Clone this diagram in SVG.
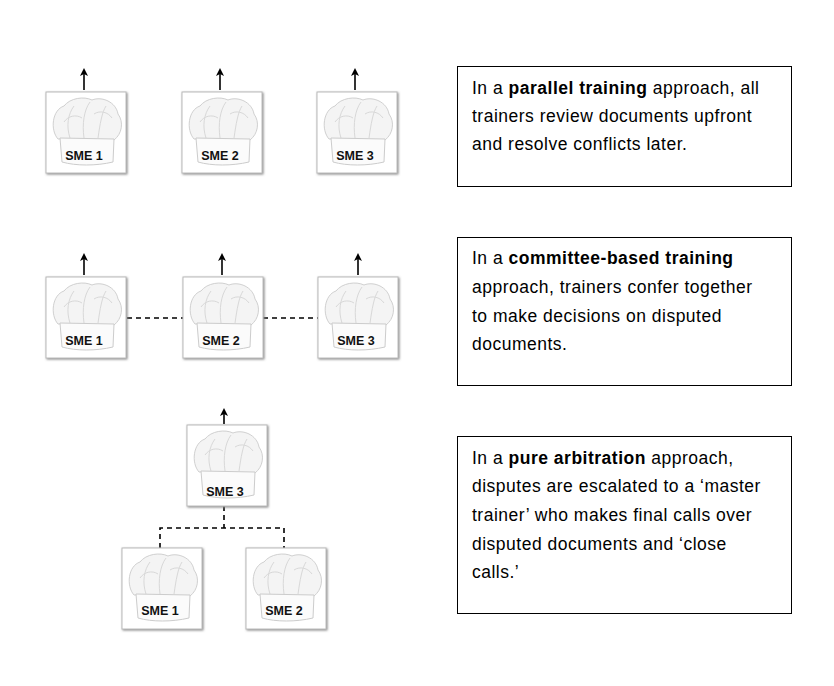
<svg xmlns="http://www.w3.org/2000/svg" xmlns:xlink="http://www.w3.org/1999/xlink" width="834" height="686" viewBox="0 0 834 686">
<style>
.box{fill:#fff;stroke:#000;stroke-width:1}
.t{font-family:"Liberation Sans",Arial,sans-serif;font-size:17.5px;letter-spacing:0.5px;fill:#000}
.b{font-weight:bold}
.lbl{font-family:"Liberation Sans",Arial,sans-serif;font-size:12.5px;font-weight:bold;fill:#111}
.c{stroke:#000;stroke-width:1.6;fill:none}
.d{stroke:#000;stroke-width:1.6;fill:none;stroke-dasharray:5,4}
</style>
<defs>
<marker id="ah" markerWidth="8" markerHeight="8" refX="4" refY="4" orient="auto" markerUnits="userSpaceOnUse">
<path d="M0,0 L8,4 L0,8 L2,4 Z" fill="#000"/>
</marker>
<filter id="sh" x="-10%" y="-10%" width="130%" height="130%"><feDropShadow dx="1" dy="1" stdDeviation="1" flood-color="#888"/></filter>
<g id="hat">
<rect x="0" y="0" width="80" height="81" fill="#fff" stroke="#bbb" filter="url(#sh)"/>
<path d="M12,47 C4,38 6,18 18,14 C24,6 38,4 46,8 C56,4 70,10 72,22 C78,30 76,42 68,48 Z" fill="#f4f4f4" stroke="#d0d0d0"/>
<path d="M24,46 C20,34 22,22 28,14 M38,46 C36,32 38,18 44,10 M52,46 C54,32 56,20 60,14 M18,30 C22,24 30,22 36,26 M48,22 C54,18 62,20 66,26" stroke="#d8d8d8" fill="none"/>
<path d="M14,46 L68,47 L67,70 C50,74 30,74 16,70 Z" fill="#fbfbfb" stroke="#ccc"/>
</g>
</defs>
<rect width="834" height="686" fill="#fff"/>
<g id="connectors">
<line class="c" x1="84" y1="90" x2="84" y2="72" marker-end="url(#ah)"/>
<line class="c" x1="220" y1="90" x2="220" y2="72" marker-end="url(#ah)"/>
<line class="c" x1="355" y1="90" x2="355" y2="72" marker-end="url(#ah)"/>
<line class="c" x1="84" y1="275" x2="84" y2="257" marker-end="url(#ah)"/>
<line class="c" x1="222" y1="275" x2="222" y2="257" marker-end="url(#ah)"/>
<line class="c" x1="358" y1="275" x2="358" y2="257" marker-end="url(#ah)"/>
<line class="c" x1="224" y1="424" x2="224" y2="412" marker-end="url(#ah)"/>
<line class="d" x1="127" y1="318" x2="183" y2="318"/>
<line class="d" x1="263" y1="318" x2="318" y2="318"/>
<path class="d" d="M224,506 V528 M160,548 V528 H284 V548"/>
</g>
<g id="sme1a"><use xlink:href="#hat" x="46" y="92"/><text class="lbl" x="84" y="160" text-anchor="middle">SME 1</text></g>
<g id="sme2a"><use xlink:href="#hat" x="182" y="92"/><text class="lbl" x="220" y="160" text-anchor="middle">SME 2</text></g>
<g id="sme3a"><use xlink:href="#hat" x="317" y="92"/><text class="lbl" x="355" y="160" text-anchor="middle">SME 3</text></g>
<g id="sme1b"><use xlink:href="#hat" x="46" y="277"/><text class="lbl" x="84" y="345" text-anchor="middle">SME 1</text></g>
<g id="sme2b"><use xlink:href="#hat" x="183" y="277"/><text class="lbl" x="221" y="345" text-anchor="middle">SME 2</text></g>
<g id="sme3b"><use xlink:href="#hat" x="318" y="277"/><text class="lbl" x="356" y="345" text-anchor="middle">SME 3</text></g>
<g id="sme3c"><use xlink:href="#hat" x="187" y="425"/><text class="lbl" x="225" y="496" text-anchor="middle">SME 3</text></g>
<g id="sme1c"><use xlink:href="#hat" x="122" y="548"/><text class="lbl" x="160" y="615" text-anchor="middle">SME 1</text></g>
<g id="sme2c"><use xlink:href="#hat" x="246" y="548"/><text class="lbl" x="284" y="615" text-anchor="middle">SME 2</text></g>
<g id="desc1"><rect class="box" x="457.5" y="66.5" width="334" height="120"/>
<text class="t" x="472" y="94">In a <tspan class="b">parallel training</tspan> approach, all</text>
<text class="t" x="472" y="122">trainers review documents upfront</text>
<text class="t" x="472" y="150">and resolve conflicts later.</text></g>
<g id="desc2"><rect class="box" x="457.5" y="237.5" width="334" height="148"/>
<text class="t" x="472" y="264">In a <tspan class="b">committee-based training</tspan></text>
<text class="t" x="472" y="293">approach, trainers confer together</text>
<text class="t" x="472" y="322">to make decisions on disputed</text>
<text class="t" x="472" y="350">documents.</text></g>
<g id="desc3"><rect class="box" x="457.5" y="436.5" width="334" height="177"/>
<text class="t" x="472" y="464">In a <tspan class="b">pure arbitration</tspan> approach,</text>
<text class="t" x="472" y="492">disputes are escalated to a ‘master</text>
<text class="t" x="472" y="521">trainer’ who makes final calls over</text>
<text class="t" x="472" y="550">disputed documents and ‘close</text>
<text class="t" x="472" y="578">calls.’</text></g>
</svg>
